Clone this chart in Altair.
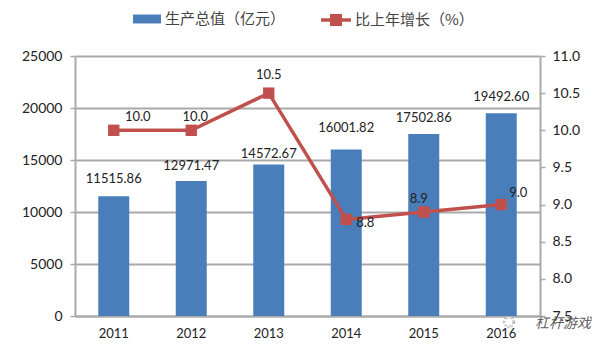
import altair as alt
import pandas as pd

years = ["2011", "2012", "2013", "2014", "2015", "2016"]
output = [11515.86, 12971.47, 14572.67, 16001.82, 17502.86, 19492.60]
output_labels = ["11515.86", "12971.47", "14572.67", "16001.82", "17502.86", "19492.60"]
growth = [10.0, 10.0, 10.5, 8.8, 8.9, 9.0]
growth_labels = ["10.0", "10.0", "10.5", "8.8", "8.9", "9.0"]
bar_name = "生产总值（亿元）"
line_name = "比上年增长（%）"

df = pd.DataFrame({"year": years, "output": output, "growth": growth,
                   "olabel": output_labels, "glabel": growth_labels,
                   "bar": bar_name, "line": line_name})

FONT = "Lato"
CJK = "Noto Sans CJK SC"
TXT = "#222222"
GRID = "#a9a9a9"
RED = "#c0504d"
LINE = "#ad4a48"
BLUE = "#4a7ebb"

x = alt.X("year:N", sort=years, title=None, scale=alt.Scale(paddingInner=0.6, paddingOuter=0.3),
          axis=alt.Axis(labelAngle=0, labelFont=FONT, labelFontSize=13, labelColor=TXT, labelPadding=11,
                        domainColor=GRID, domainWidth=2, ticks=False, grid=False))
yl = alt.Scale(domain=[0, 25000])
yr = alt.Scale(domain=[7.5, 11.0])

bars = alt.Chart(df).mark_bar(size=31).encode(
    x=x,
    y=alt.Y("output:Q", scale=yl, title=None,
            axis=alt.Axis(values=[0, 5000, 10000, 15000, 20000, 25000], grid=True, gridColor=GRID, gridWidth=2,
                          labelFont=FONT, labelFontSize=14, labelColor=TXT, labelPadding=8, format="d",
                          domainColor=GRID, domainWidth=2, tickColor=GRID, tickSize=5, tickWidth=1.5)),
    color=alt.Color("bar:N", scale=alt.Scale(domain=[bar_name], range=[BLUE]),
                    legend=alt.Legend(title=None, orient="none", legendX=58, legendY=-51, symbolType="M-1,-0.32H1V0.32H-1Z",
                                      symbolSize=784, labelFont=CJK, labelFontSize=15, labelColor="#444444",
                                      labelOffset=4, symbolStrokeWidth=0, padding=0)),
)

line = alt.Chart(df).mark_line(strokeWidth=3.5, color=LINE).encode(
    x=alt.X("year:N", sort=years),
    y=alt.Y("growth:Q", scale=yr, title=None,
            axis=alt.Axis(orient="right", values=[7.5, 8, 8.5, 9, 9.5, 10, 10.5, 11], format=".1f", grid=False,
                          labelFont=FONT, labelFontSize=14, labelColor=TXT, labelPadding=7,
                          domainColor=GRID, domainWidth=2, tickColor=GRID, tickSize=5, tickWidth=1.5)),
    stroke=alt.Stroke("line:N", scale=alt.Scale(domain=[line_name], range=[RED]),
                      legend=alt.Legend(title=None, orient="none", legendX=246, legendY=-51,
                                        symbolType="M-1,-0.11H-0.4V-0.4H0.4V-0.11H1V0.11H0.4V0.4H-0.4V0.11H-1Z",
                                        symbolSize=900, symbolFillColor=RED, symbolStrokeWidth=0, padding=0,
                                        labelOffset=4, labelFont=CJK, labelFontSize=15, labelColor="#444444")),
)

points = alt.Chart(df).mark_square(size=130, color=RED, opacity=1).encode(
    x=alt.X("year:N", sort=years),
    y=alt.Y("growth:Q", scale=yr, title=None, axis=None),
)

layers = [bars, line, points]

# Data-label nudges, matched to the hand-placed labels of the original
bar_off = [-17, -15, -10, -22, -16, -16]
line_off = [(24, -13), (4, -13), (0, -18), (19, 4), (-5, -13), (17, -12)]
for i, y in enumerate(years):
    sub = df[df.year == y]
    layers.append(alt.Chart(sub).mark_text(font=FONT, fontSize=13, color=TXT, dy=bar_off[i]).encode(
        x=alt.X("year:N", sort=years),
        y=alt.Y("output:Q", scale=yl, axis=None, title=None),
        text="olabel:N"))
    layers.append(alt.Chart(sub).mark_text(font=FONT, fontSize=13, color=TXT, dx=line_off[i][0], dy=line_off[i][1]).encode(
        x=alt.X("year:N", sort=years),
        y=alt.Y("growth:Q", scale=yr, axis=None, title=None),
        text="glabel:N"))

# WeChat-style watermark in the bottom-right corner
wm_icon = alt.Chart(pd.DataFrame({"s": [120, 70]})).mark_point(
    shape="circle", filled=True, color="white", stroke="#9a9a9a", strokeWidth=1, strokeDash=[2, 2], fillOpacity=0.85
).encode(x=alt.value(434), y=alt.value(266), size=alt.Size("s:Q", scale=None, legend=None))
wm = alt.Chart(pd.DataFrame({"t": ["杠杆游戏"]})).mark_text(
    font=CJK, fontSize=14, color="#5f5f5f", fontStyle="italic", align="left"
).encode(text="t:N", x=alt.value(460), y=alt.value(268))
layers += [wm_icon, wm]

chart = alt.layer(*layers).resolve_scale(y="independent", color="independent", stroke="independent").properties(
    width=465, height=260, background="white",
    padding={"left": 67, "top": 48, "right": 52, "bottom": 30},
    autosize=alt.AutoSizeParams(type="none"),
).configure_view(stroke=None)

chart.save("out.html", embed_options={"renderer": "svg", "actions": False})
